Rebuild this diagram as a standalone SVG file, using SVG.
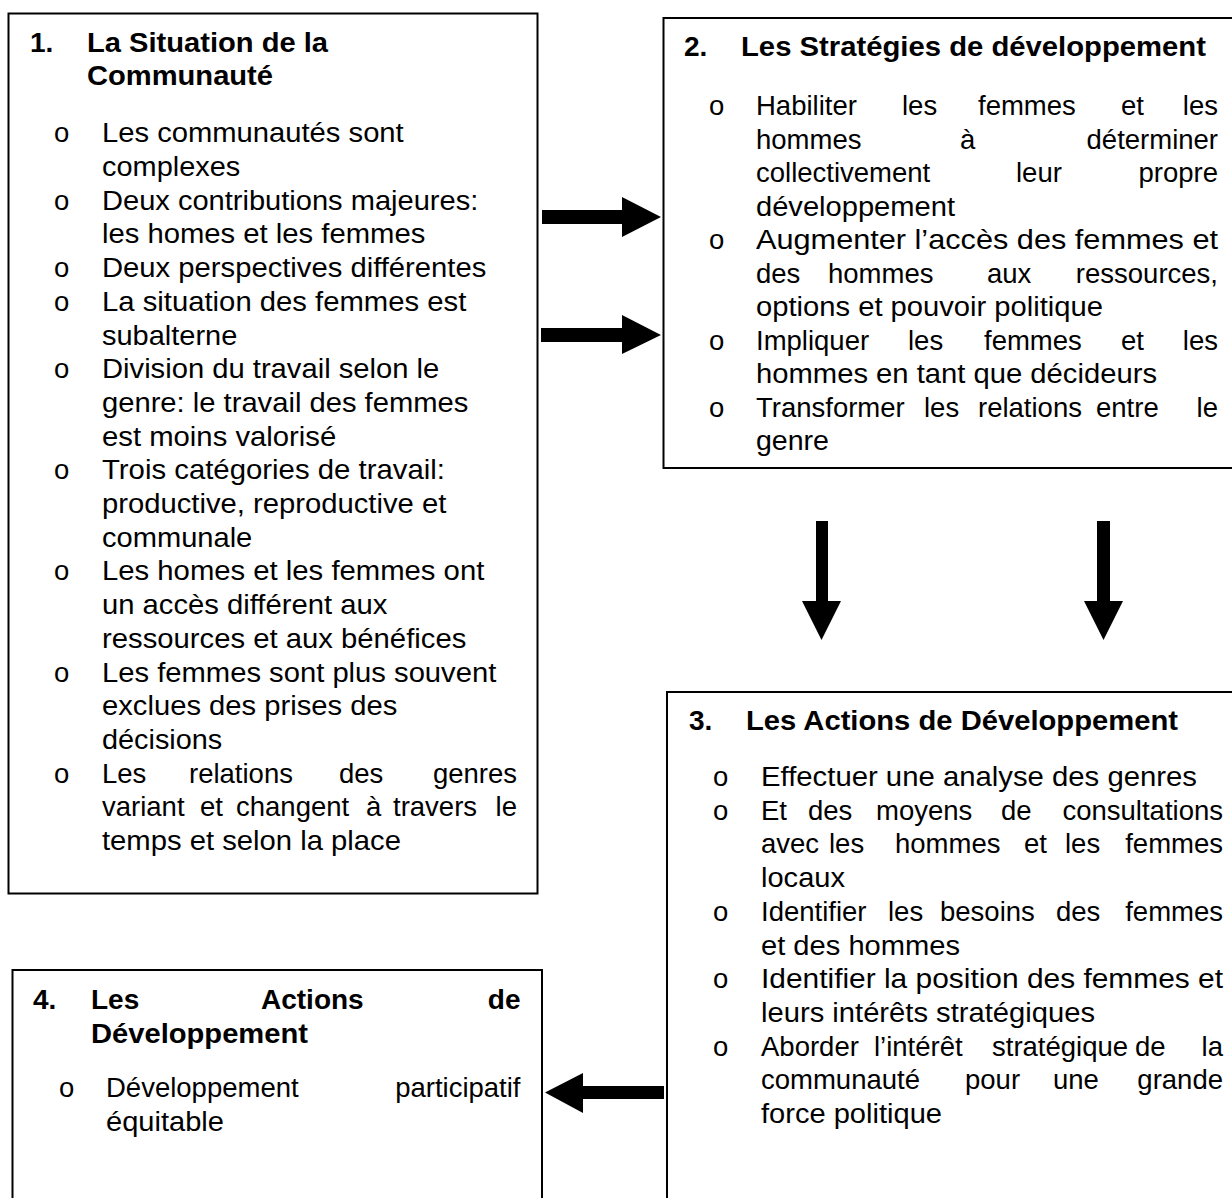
<svg xmlns="http://www.w3.org/2000/svg" width="1232" height="1198" viewBox="0 0 1232 1198">
<style>
.box{fill:none;stroke:#000;stroke-width:2}
.t{font-family:"Liberation Sans",Arial,sans-serif;font-size:27.5px;fill:#000}
.b{font-family:"Liberation Sans",Arial,sans-serif;font-size:28px;font-weight:bold;fill:#000}
.e{text-anchor:end}
.arrow{fill:#000;stroke:none}
</style>
<rect width="1232" height="1198" fill="#fff"/>
<g id="node1">
<rect class="box" x="8.5" y="13.5" width="529" height="880"/>
<text class="b" x="30" y="52">1.</text>
<text class="b" x="87" y="52" textLength="241" lengthAdjust="spacingAndGlyphs">La Situation de la</text>
<text class="b" x="87" y="85" textLength="186" lengthAdjust="spacingAndGlyphs">Communauté</text>
<text class="t" x="54" y="142.3">o</text>
<text class="t" x="102" y="142.3" textLength="301.7" lengthAdjust="spacingAndGlyphs">Les communautés sont</text>
<text class="t" x="102" y="176" textLength="138.3" lengthAdjust="spacingAndGlyphs">complexes</text>
<text class="t" x="54" y="209.7">o</text>
<text class="t" x="102" y="209.7" textLength="376.3" lengthAdjust="spacingAndGlyphs">Deux contributions majeures:</text>
<text class="t" x="102" y="243.4" textLength="323.3" lengthAdjust="spacingAndGlyphs">les homes et les femmes</text>
<text class="t" x="54" y="277.1">o</text>
<text class="t" x="102" y="277.1" textLength="384.3" lengthAdjust="spacingAndGlyphs">Deux perspectives différentes</text>
<text class="t" x="54" y="310.8">o</text>
<text class="t" x="102" y="310.8" textLength="364.3" lengthAdjust="spacingAndGlyphs">La situation des femmes est</text>
<text class="t" x="102" y="344.5" textLength="135.3" lengthAdjust="spacingAndGlyphs">subalterne</text>
<text class="t" x="54" y="378.2">o</text>
<text class="t" x="102" y="378.2" textLength="337.3" lengthAdjust="spacingAndGlyphs">Division du travail selon le</text>
<text class="t" x="102" y="411.9" textLength="366.3" lengthAdjust="spacingAndGlyphs">genre: le travail des femmes</text>
<text class="t" x="102" y="445.6" textLength="234.3" lengthAdjust="spacingAndGlyphs">est moins valorisé</text>
<text class="t" x="54" y="479.3">o</text>
<text class="t" x="102" y="479.3" textLength="342.9" lengthAdjust="spacingAndGlyphs">Trois catégories de travail:</text>
<text class="t" x="102" y="513" textLength="344.3" lengthAdjust="spacingAndGlyphs">productive, reproductive et</text>
<text class="t" x="102" y="546.7" textLength="150.3" lengthAdjust="spacingAndGlyphs">communale</text>
<text class="t" x="54" y="580.4">o</text>
<text class="t" x="102" y="580.4" textLength="382.3" lengthAdjust="spacingAndGlyphs">Les homes et les femmes ont</text>
<text class="t" x="102" y="614.1" textLength="285.3" lengthAdjust="spacingAndGlyphs">un accès différent aux</text>
<text class="t" x="102" y="647.8" textLength="364.3" lengthAdjust="spacingAndGlyphs">ressources et aux bénéfices</text>
<text class="t" x="54" y="681.5">o</text>
<text class="t" x="102" y="681.5" textLength="394.3" lengthAdjust="spacingAndGlyphs">Les femmes sont plus souvent</text>
<text class="t" x="102" y="715.2" textLength="295.3" lengthAdjust="spacingAndGlyphs">exclues des prises des</text>
<text class="t" x="102" y="748.9" textLength="120.3" lengthAdjust="spacingAndGlyphs">décisions</text>
<text class="t" x="54" y="782.6">o</text>
<text class="t" y="782.6"><tspan x="102">Les</tspan> <tspan x="189">relations</tspan> <tspan x="339">des</tspan> <tspan class="e" x="517">genres</tspan></text>
<text class="t" y="816.3"><tspan x="102">variant</tspan> <tspan x="200">et</tspan> <tspan x="236">changent</tspan> <tspan x="366">à</tspan> <tspan x="393">travers</tspan> <tspan class="e" x="517">le</tspan></text>
<text class="t" x="102" y="850" textLength="298.9" lengthAdjust="spacingAndGlyphs">temps et selon la place</text>
</g>
<g id="node2">
<rect class="box" x="663.5" y="18" width="600" height="450"/>
<text class="b" x="684" y="56">2.</text>
<text class="b" x="741" y="56" textLength="465" lengthAdjust="spacingAndGlyphs">Les Stratégies de développement</text>
<text class="t" x="709" y="115">o</text>
<text class="t" y="115"><tspan x="756">Habiliter</tspan> <tspan x="902">les</tspan> <tspan x="978">femmes</tspan> <tspan x="1121">et</tspan> <tspan class="e" x="1218">les</tspan></text>
<text class="t" y="148.5"><tspan x="756">hommes</tspan> <tspan x="960">à</tspan> <tspan class="e" x="1218">déterminer</tspan></text>
<text class="t" y="182"><tspan x="756">collectivement</tspan> <tspan x="1016">leur</tspan> <tspan class="e" x="1218">propre</tspan></text>
<text class="t" x="756" y="215.5" textLength="199" lengthAdjust="spacingAndGlyphs">développement</text>
<text class="t" x="709" y="249">o</text>
<text class="t" x="756" y="249" textLength="462" lengthAdjust="spacingAndGlyphs">Augmenter l’accès des femmes et</text>
<text class="t" y="282.5"><tspan x="756">des</tspan> <tspan x="828">hommes</tspan> <tspan x="987">aux</tspan> <tspan class="e" x="1218">ressources,</tspan></text>
<text class="t" x="756" y="316" textLength="347" lengthAdjust="spacingAndGlyphs">options et pouvoir politique</text>
<text class="t" x="709" y="349.5">o</text>
<text class="t" y="349.5"><tspan x="756">Impliquer</tspan> <tspan x="908">les</tspan> <tspan x="984">femmes</tspan> <tspan x="1121">et</tspan> <tspan class="e" x="1218">les</tspan></text>
<text class="t" x="756" y="383" textLength="401" lengthAdjust="spacingAndGlyphs">hommes en tant que décideurs</text>
<text class="t" x="709" y="416.5">o</text>
<text class="t" y="416.5"><tspan x="756">Transformer</tspan> <tspan x="924">les</tspan> <tspan x="978">relations</tspan> <tspan x="1096">entre</tspan> <tspan class="e" x="1218">le</tspan></text>
<text class="t" x="756" y="450" textLength="73" lengthAdjust="spacingAndGlyphs">genre</text>
</g>
<g id="node3">
<rect class="box" x="667" y="692" width="600" height="540"/>
<text class="b" x="689" y="730">3.</text>
<text class="b" x="746" y="730" textLength="432" lengthAdjust="spacingAndGlyphs">Les Actions de Développement</text>
<text class="t" x="713" y="786">o</text>
<text class="t" x="761" y="786" textLength="436" lengthAdjust="spacingAndGlyphs">Effectuer une analyse des genres</text>
<text class="t" x="713" y="819.7">o</text>
<text class="t" y="819.7"><tspan x="761">Et</tspan> <tspan x="808">des</tspan> <tspan x="876">moyens</tspan> <tspan x="1001">de</tspan> <tspan class="e" x="1223">consultations</tspan></text>
<text class="t" y="853.4"><tspan x="761">avec</tspan> <tspan x="829">les</tspan> <tspan x="895">hommes</tspan> <tspan x="1024">et</tspan> <tspan x="1065">les</tspan> <tspan class="e" x="1223">femmes</tspan></text>
<text class="t" x="761" y="887.1" textLength="84" lengthAdjust="spacingAndGlyphs">locaux</text>
<text class="t" x="713" y="920.8">o</text>
<text class="t" y="920.8"><tspan x="761">Identifier</tspan> <tspan x="888">les</tspan> <tspan x="940">besoins</tspan> <tspan x="1056">des</tspan> <tspan class="e" x="1223">femmes</tspan></text>
<text class="t" x="761" y="954.5" textLength="199" lengthAdjust="spacingAndGlyphs">et des hommes</text>
<text class="t" x="713" y="988.2">o</text>
<text class="t" x="761" y="988.2" textLength="462" lengthAdjust="spacingAndGlyphs">Identifier la position des femmes et</text>
<text class="t" x="761" y="1021.9" textLength="334" lengthAdjust="spacingAndGlyphs">leurs intérêts stratégiques</text>
<text class="t" x="713" y="1055.6">o</text>
<text class="t" y="1055.6"><tspan x="761">Aborder</tspan> <tspan x="874">l’intérêt</tspan> <tspan x="992">stratégique</tspan> <tspan x="1135">de</tspan> <tspan class="e" x="1223">la</tspan></text>
<text class="t" y="1089.3"><tspan x="761">communauté</tspan> <tspan x="965">pour</tspan> <tspan x="1053">une</tspan> <tspan class="e" x="1223">grande</tspan></text>
<text class="t" x="761" y="1123" textLength="181" lengthAdjust="spacingAndGlyphs">force politique</text>
</g>
<g id="node4">
<rect class="box" x="12.5" y="970" width="529.5" height="260"/>
<text class="b" x="33" y="1009">4.</text>
<text class="b" y="1009"><tspan x="91">Les</tspan> <tspan x="261">Actions</tspan> <tspan class="e" x="520.5">de</tspan></text>
<text class="b" x="91" y="1042.5" textLength="217" lengthAdjust="spacingAndGlyphs">Développement</text>
<text class="t" x="59" y="1097">o</text>
<text class="t" y="1097"><tspan x="106">Développement</tspan> <tspan class="e" x="520.5">participatif</tspan></text>
<text class="t" x="106" y="1130.5" textLength="118" lengthAdjust="spacingAndGlyphs">équitable</text>
</g>
<g id="connectors">
<polygon class="arrow" points="542,210 622,210 622,197 661,217 622,237 622,224 542,224"/>
<polygon class="arrow" points="541,328 622,328 622,315 661,335 622,354 622,342 541,342"/>
<polygon class="arrow" points="816,521 828,521 828,601 841,601 821.5,640 802,601 816,601"/>
<polygon class="arrow" points="1097,521 1110,521 1110,601 1123,601 1103.5,640 1084,601 1097,601"/>
<polygon class="arrow" points="664,1086 583,1086 583,1073 545,1092.5 583,1113 583,1099 664,1099"/>
</g>
</svg>
